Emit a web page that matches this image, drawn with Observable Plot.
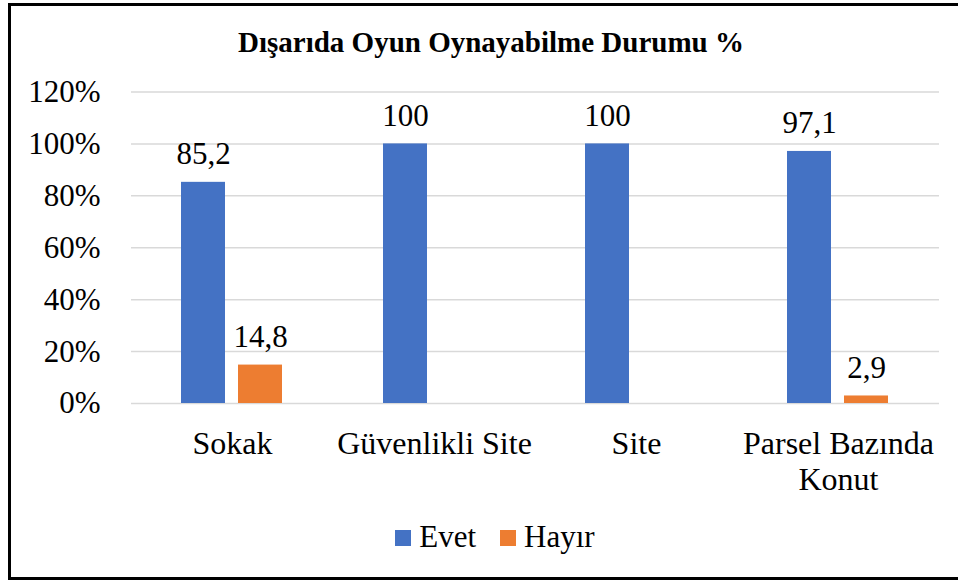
<!DOCTYPE html>
<html>
<head>
<meta charset="utf-8">
<script src="https://cdn.jsdelivr.net/npm/d3@7"></script>
<script src="https://cdn.jsdelivr.net/npm/@observablehq/plot@0.6"></script>
<style>
  html, body { margin: 0; padding: 0; background: #fff; width: 958px; height: 580px; overflow: hidden; }
  body { position: relative; }
  body, body *, svg text, svg tspan { font-family: "Liberation Serif", "Times New Roman", Tinos, serif !important; }
  #frame { position: absolute; left: 8px; top: 3px; width: 980px; height: 571px; border: 3px solid #000; box-sizing: content-box; }
  #title { position: absolute; left: 0; width: 982px; top: 28px; text-align: center; font-weight: bold; font-size: 29px; line-height: 29px; color: #000; white-space: nowrap; }
  #chart { position: absolute; left: 0; top: 0; }
  #legend { position: absolute; left: 0; width: 990px; top: 521px; display: flex; justify-content: center; align-items: center; font-size: 31px; line-height: 31px; color: #000; }
  .item { display: flex; align-items: center; margin: 0 12px; }
  .sw { width: 16px; height: 16px; margin-right: 8px; margin-top: 3px; }
</style>
</head>
<body>
<div id="frame"></div>
<div id="title">Dışarıda Oyun Oynayabilme Durumu %</div>
<div id="chart"></div>
<div id="legend"></div>
<script>
const categories = ["Sokak", "Güvenlikli Site", "Site", "Parsel Bazında Konut"];
const categoryLabels = ["Sokak", "Güvenlikli Site", "Site", "Parsel Bazında\nKonut"];
const series = ["Evet", "Hayır"];
const evet = [85.2, 100, 100, 97.1];
const hayir = [14.8, 0, 0, 2.9];
const yTicks = [0, 20, 40, 60, 80, 100, 120];
const colors = ["#4472C4", "#ED7D31"];

const data = categories.flatMap((c, i) => [
  {category: c, series: "Evet", value: evet[i]},
  {category: c, series: "Hayır", value: hayir[i]}
]);

const labelOf = new Map(categories.map((c, i) => [c, categoryLabels[i]]));
const serifFont = "'Liberation Serif', 'Times New Roman', serif";

const chart = Plot.plot({
  width: 958,
  height: 500,
  marginLeft: 129,
  marginRight: 18,
  marginTop: 91.5,
  marginBottom: 97,
  style: {fontFamily: serifFont, fontSize: "31px", color: "#000", background: "transparent", overflow: "visible"},
  fx: {domain: categories, padding: 0, label: null},
  x: {domain: series, paddingInner: 0.224, paddingOuter: 0.862, axis: null},
  y: {domain: [0, 120], label: null},
  color: {domain: series, range: colors},
  marks: [
    Plot.ruleY(yTicks, {stroke: "#d9d9d9", strokeWidth: 1.5}),
    Plot.barY(data, {fx: "category", x: "series", y: "value", fill: "series"}),
    Plot.text(data.filter(d => d.value > 0), {
      fx: "category", x: "series", y: "value",
      text: d => String(d.value).replace(".", ","),
      lineAnchor: "bottom", dy: -18, fill: "#000", fontSize: 31, fontFamily: serifFont
    }),
    Plot.axisY(yTicks, {tickSize: 0, tickPadding: 31, tickFormat: d => d + "%", label: null, fontSize: 31, fontFamily: serifFont, fill: "#000"}),
    Plot.axisFx({anchor: "bottom", tickSize: 0, tickPadding: 25, tickFormat: d => labelOf.get(d), label: null, fontSize: 32, fontFamily: serifFont, lineHeight: 1.125, fill: "#000"})
  ]
});
document.getElementById("chart").appendChild(chart);

const legend = document.getElementById("legend");
series.forEach((s, i) => {
  const item = document.createElement("div");
  item.className = "item";
  const sw = document.createElement("div");
  sw.className = "sw";
  sw.style.background = colors[i];
  const t = document.createElement("span");
  t.textContent = s;
  item.appendChild(sw);
  item.appendChild(t);
  legend.appendChild(item);
});
</script>
</body>
</html>
